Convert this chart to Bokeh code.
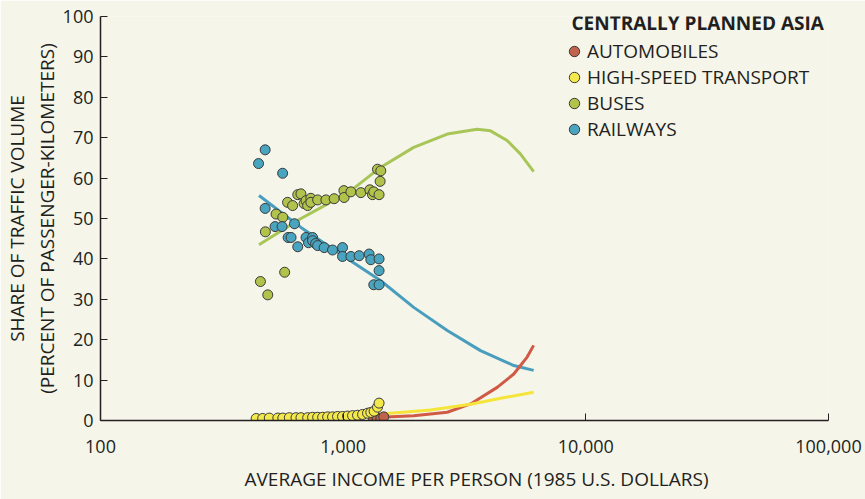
from bokeh.plotting import figure
from bokeh.models import Range1d, FixedTicker, Legend, LegendItem, Label, Title
from bokeh.embed import file_html
from bokeh.resources import INLINE

# ---- data ----
x_ticks = [100, 1000, 10000, 100000]
x_tick_labels = ["100", "1,000", "10,000", "100,000"]
y_ticks = [0, 10, 20, 30, 40, 50, 60, 70, 80, 90, 100]

income_rail = [448, 477, 563, 477, 524, 560, 630, 593, 610, 650, 703, 720, 748, 748, 770, 785,
               835, 904, 994, 994, 1076, 1164, 1279, 1300, 1406, 1406, 1337, 1406]
share_rail = [63.6, 67.0, 61.2, 52.5, 48.0, 48.0, 48.7, 45.3, 45.3, 43.0, 45.3, 44.0, 45.3, 44.5, 43.8, 43.3,
              42.8, 42.2, 42.8, 40.6, 40.6, 40.8, 41.2, 39.8, 40.0, 37.1, 33.6, 33.6]

income_bus = [456, 478, 489, 529, 564, 574, 590, 619, 650, 670, 690, 703, 714, 736, 736, 785,
              849, 918, 1007, 1009, 1076, 1183, 1288, 1321, 1337, 1406, 1385, 1429, 1420]
share_bus = [34.4, 46.7, 31.1, 51.1, 50.3, 36.7, 54.0, 53.2, 55.9, 56.1, 53.7, 54.4, 53.2, 55.0, 54.0, 54.6,
             54.6, 54.9, 56.9, 55.2, 56.6, 56.4, 57.1, 55.9, 56.6, 55.9, 62.2, 61.8, 59.2]

income_hst = [438, 466, 496, 538, 564, 600, 639, 670, 714, 748, 785, 823, 863, 904, 948, 994,
              1042, 1093, 1146, 1202, 1260, 1300, 1341, 1385, 1406]
share_hst = [0.5, 0.5, 0.6, 0.6, 0.6, 0.7, 0.7, 0.7, 0.7, 0.8, 0.8, 0.8, 0.9, 0.9, 1.0, 1.0,
             1.1, 1.2, 1.3, 1.5, 1.8, 2.0, 2.3, 3.3, 4.3]

income_auto = [1330, 1380, 1430, 1470]
share_auto = [0.4, 0.6, 0.5, 0.9]

bus_fit_income = [450, 670, 809, 1076, 1429, 1953, 2685, 3567, 4046, 4740, 5372, 6095]
bus_fit_share = [43.5, 50.0, 52.7, 56.9, 62.7, 67.6, 70.9, 72.1, 71.7, 69.3, 66.0, 61.6]

rail_fit_income = [450, 670, 980, 1429, 1953, 2685, 3681, 5047, 6095]
rail_fit_share = [55.7, 47.8, 41.1, 34.6, 28.0, 22.3, 17.3, 13.6, 12.4]

auto_fit_income = [1429, 1953, 2685, 3350, 4312, 5047, 5729, 6095]
auto_fit_share = [0.8, 1.2, 2.05, 4.1, 8.2, 11.5, 15.7, 18.6]

hst_fit_income = [1429, 2291, 3350, 4740, 6095]
hst_fit_share = [1.6, 2.6, 4.0, 5.8, 7.0]

series_labels = ["AUTOMOBILES", "HIGH-SPEED TRANSPORT", "BUSES", "RAILWAYS"]
legend_title = "CENTRALLY PLANNED ASIA"
x_title = "AVERAGE INCOME PER PERSON (1985 U.S. DOLLARS)"
y_title = "SHARE OF TRAFFIC VOLUME\n(PERCENT OF PASSENGER-KILOMETERS)"

# ---- styling ----
FONT = "Open Sans"
BG = "#f5f5ea"
INK = "#231f20"
C_AUTO, L_AUTO = "#c0624c", "#d05a46"
C_HST, L_HST = "#f3e94c", "#f5e53a"
C_BUS, L_BUS = "#b2c34c", "#a8c657"
C_RAIL, L_RAIL = "#48a4bf", "#4a9ebd"

p = figure(width=865, height=499, x_axis_type="log",
           x_range=Range1d(100, 100000), y_range=Range1d(0, 100),
           output_backend="svg", toolbar_location=None,
           min_border_left=99, min_border_right=37, min_border_top=16, min_border_bottom=79)
p.background_fill_color = BG
p.border_fill_color = BG
p.outline_line_color = None
p.xgrid.visible = False
p.ygrid.visible = False

# fitted curves
p.line(bus_fit_income, bus_fit_share, line_color=L_BUS, line_width=3)
p.line(rail_fit_income, rail_fit_share, line_color=L_RAIL, line_width=3)
p.line(auto_fit_income, auto_fit_share, line_color=L_AUTO, line_width=3)
p.line(hst_fit_income, hst_fit_share, line_color=L_HST, line_width=3)

common = dict(size=10, line_color="#3a3a3a", line_width=1)
r_auto = p.scatter(income_auto, share_auto, fill_color=C_AUTO, **common)
r_hst = p.scatter(income_hst, share_hst, fill_color=C_HST, **common)
r_bus = p.scatter(income_bus, share_bus, fill_color=C_BUS, **common)
r_rail = p.scatter(income_rail, share_rail, fill_color=C_RAIL, **common)

# axes
xa = p.xaxis[0]
xa.ticker = FixedTicker(ticks=x_ticks)
xa.major_label_overrides = {t: l for t, l in zip(x_ticks, x_tick_labels)}
xa.minor_tick_line_color = None
xa.major_tick_in = 7
xa.major_tick_out = 0
xa.axis_line_width = 1.5
xa.axis_line_color = INK
xa.major_tick_line_color = INK
xa.major_label_text_font = FONT
xa.major_label_text_font_size = "18px"
xa.major_label_text_color = INK
xa.major_label_standoff = 19

xt = Title(text=x_title, align="left", offset=144, standoff=16,
           text_font=FONT, text_font_size="19px", text_font_style="normal", text_color=INK)
p.add_layout(xt, "below")

ya = p.yaxis[0]
ya.ticker = FixedTicker(ticks=y_ticks)
ya.minor_tick_line_color = None
ya.major_tick_in = 7
ya.major_tick_out = 0
ya.axis_line_width = 1.5
ya.axis_line_color = INK
ya.major_tick_line_color = INK
ya.major_label_text_font = FONT
ya.major_label_text_font_size = "18px"
ya.major_label_text_color = INK
ya.major_label_standoff = 7
ya.axis_label = y_title
ya.axis_label_text_font = FONT
ya.axis_label_text_font_size = "19px"
ya.axis_label_text_font_style = "normal"
ya.axis_label_text_color = INK
ya.axis_label_standoff = 0
ya.axis_label_text_line_height = 1.15

# legend
legend = Legend(items=[LegendItem(label=l, renderers=[r]) for l, r in
                       zip(series_labels, [r_auto, r_hst, r_bus, r_rail])],
                location=(461, 278), glyph_width=26, glyph_height=26, spacing=0,
                label_standoff=0, padding=0, margin=0,
                border_line_color=None, background_fill_alpha=0,
                label_text_font=FONT, label_text_font_size="19px", label_text_color=INK)
p.add_layout(legend)

title = Label(x=471, y=398, x_units="screen", y_units="screen", text=legend_title,
              text_font=FONT, text_font_size="19px", text_font_style="bold",
              text_color=INK, text_baseline="middle", text_align="left")
p.add_layout(title)

open("out.html", "w").write(file_html(p, INLINE))
